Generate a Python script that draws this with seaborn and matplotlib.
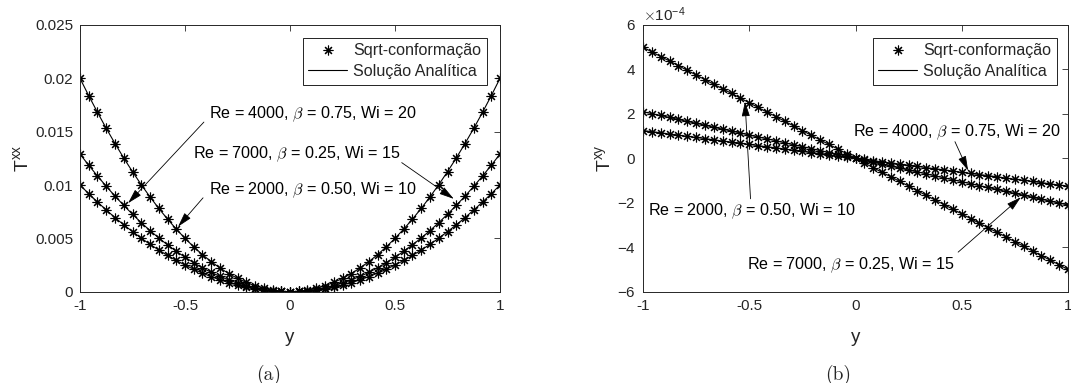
import matplotlib
matplotlib.use("Agg")
import matplotlib.pyplot as plt
import seaborn as sns
import pandas as pd
from matplotlib.lines import Line2D
from matplotlib.ticker import FuncFormatter, ScalarFormatter

# ---------------- data ----------------
y_grid = [-1.0, -0.9583, -0.9167, -0.875, -0.8333, -0.7917, -0.75, -0.7083, -0.6667,
          -0.625, -0.5833, -0.5417, -0.5, -0.4583, -0.4167, -0.375, -0.3333, -0.2917,
          -0.25, -0.2083, -0.1667, -0.125, -0.0833, -0.0417, 0.0,
          0.0417, 0.0833, 0.125, 0.1667, 0.2083, 0.25, 0.2917, 0.3333, 0.375, 0.4167,
          0.4583, 0.5, 0.5417, 0.5833, 0.625, 0.6667, 0.7083, 0.75, 0.7917, 0.8333,
          0.875, 0.9167, 0.9583, 1.0]

# T^xx curves
txx_a = [0.02, 0.01837, 0.01681, 0.01531, 0.01389, 0.01253, 0.01125, 0.01003, 0.00889,
         0.00781, 0.00681, 0.00587, 0.005, 0.0042, 0.00347, 0.00281, 0.00222, 0.0017,
         0.00125, 0.00087, 0.00056, 0.00031, 0.00014, 0.00003, 0.0,
         0.00003, 0.00014, 0.00031, 0.00056, 0.00087, 0.00125, 0.0017, 0.00222, 0.00281,
         0.00347, 0.0042, 0.005, 0.00587, 0.00681, 0.00781, 0.00889, 0.01003, 0.01125,
         0.01253, 0.01389, 0.01531, 0.01681, 0.01837, 0.02]
txx_b = [0.0129, 0.01185, 0.01084, 0.00988, 0.00896, 0.00809, 0.00726, 0.00647, 0.00573,
         0.00504, 0.00439, 0.00379, 0.00323, 0.00271, 0.00224, 0.00181, 0.00143, 0.0011,
         0.00081, 0.00056, 0.00036, 0.0002, 0.00009, 0.00002, 0.0,
         0.00002, 0.00009, 0.0002, 0.00036, 0.00056, 0.00081, 0.0011, 0.00143, 0.00181,
         0.00224, 0.00271, 0.00323, 0.00379, 0.00439, 0.00504, 0.00573, 0.00647, 0.00726,
         0.00809, 0.00896, 0.00988, 0.01084, 0.01185, 0.0129]
txx_c = [0.01, 0.00918, 0.0084, 0.00766, 0.00694, 0.00627, 0.00563, 0.00502, 0.00444,
         0.00391, 0.0034, 0.00293, 0.0025, 0.0021, 0.00174, 0.00141, 0.00111, 0.00085,
         0.00063, 0.00043, 0.00028, 0.00016, 0.00007, 0.00002, 0.0,
         0.00002, 0.00007, 0.00016, 0.00028, 0.00043, 0.00063, 0.00085, 0.00111, 0.00141,
         0.00174, 0.0021, 0.00250, 0.00293, 0.0034, 0.00391, 0.00444, 0.00502, 0.00563,
         0.00627, 0.00694, 0.00766, 0.0084, 0.00918, 0.01]

# T^xy curves (in units of 1e-4)
txy_unit = 1e-4
txy_a = [5.0, 4.79, 4.58, 4.38, 4.17, 3.96, 3.75, 3.54, 3.33, 3.13, 2.92, 2.71, 2.5,
         2.29, 2.08, 1.88, 1.67, 1.46, 1.25, 1.04, 0.83, 0.63, 0.42, 0.21, 0.0,
         -0.21, -0.42, -0.63, -0.83, -1.04, -1.25, -1.46, -1.67, -1.88, -2.08, -2.29,
         -2.5, -2.71, -2.92, -3.13, -3.33, -3.54, -3.75, -3.96, -4.17, -4.38, -4.58,
         -4.79, -5.0]
txy_b = [2.1, 2.01, 1.93, 1.84, 1.75, 1.66, 1.58, 1.49, 1.4, 1.31, 1.23, 1.14, 1.05,
         0.96, 0.88, 0.79, 0.7, 0.61, 0.53, 0.44, 0.35, 0.26, 0.18, 0.09, 0.0,
         -0.09, -0.18, -0.26, -0.35, -0.44, -0.53, -0.61, -0.7, -0.79, -0.88, -0.96,
         -1.05, -1.14, -1.23, -1.31, -1.4, -1.49, -1.58, -1.66, -1.75, -1.84, -1.93,
         -2.01, -2.1]
txy_c = [1.25, 1.2, 1.15, 1.09, 1.04, 0.99, 0.94, 0.89, 0.83, 0.78, 0.73, 0.68, 0.63,
         0.57, 0.52, 0.47, 0.42, 0.36, 0.31, 0.26, 0.21, 0.16, 0.1, 0.05, 0.0,
         -0.05, -0.1, -0.16, -0.21, -0.26, -0.31, -0.36, -0.42, -0.47, -0.52, -0.57,
         -0.63, -0.68, -0.73, -0.78, -0.83, -0.89, -0.94, -0.99, -1.04, -1.09, -1.15,
         -1.2, -1.25]

x_ticks = [-1, -0.5, 0, 0.5, 1]
txx_ticks = [0, 0.005, 0.01, 0.015, 0.02, 0.025]
txy_ticks = [-6, -4, -2, 0, 2, 4, 6]

legend_labels = ["Sqrt-conformação", "Solução Analítica"]
lab_2000 = r"Re = 2000, $\beta$ = 0.50, Wi = 10"
lab_4000 = r"Re = 4000, $\beta$ = 0.75, Wi = 20"
lab_7000 = r"Re = 7000, $\beta$ = 0.25, Wi = 15"

# ---------------- style ----------------
sns.set_style("white")
plt.rcParams["font.family"] = ["Liberation Sans", "DejaVu Sans"]
plt.rcParams["mathtext.fontset"] = "cm"
plt.rcParams["axes.unicode_minus"] = False
AX_COL = "#262626"

ASTER = (8, 2, 0)
MS = 7
LW = 0.8
TXT = 11.6
TICK = 11

fig = plt.figure(figsize=(10.71, 3.83), dpi=100)
axL = fig.add_axes([80 / 1071, (383 - 291.7) / 383, 420 / 1071, 266.7 / 383])
axR = fig.add_axes([643 / 1071, (383 - 291.7) / 383, 425 / 1071, 266.7 / 383])


def draw(ax, series):
    for vals in series:
        df = pd.DataFrame({"y": y_grid, "v": vals})
        sns.lineplot(data=df, x="y", y="v", ax=ax, color="black", lw=LW, sort=False)
        sns.lineplot(data=df, x="y", y="v", ax=ax, color="black", lw=0, sort=False,
                     marker=ASTER, markersize=MS, markeredgewidth=0.8,
                     markeredgecolor="black")


draw(axL, [txx_a, txx_b, txx_c])
draw(axR, [[v * txy_unit for v in s] for s in (txy_a, txy_b, txy_c)])

for ax in (axL, axR):
    ax.set_xlim(-1, 1)
    ax.set_xticks(x_ticks)
    ax.xaxis.set_major_formatter(FuncFormatter(lambda v, p: "%g" % v))
    ax.tick_params(direction="in", top=True, right=True, length=4, width=0.6,
                   colors=AX_COL, labelsize=TICK, pad=5)
    for s in ax.spines.values():
        s.set_color(AX_COL)
        s.set_linewidth(0.7)
    ax.set_xlabel("y", fontsize=13.5, color=AX_COL, labelpad=12)

axL.set_ylim(0, 0.025)
axL.set_yticks(txx_ticks)
axL.yaxis.set_major_formatter(FuncFormatter(lambda v, p: "%g" % v))
axL.set_ylabel(r"$\mathregular{T^{xx}}$", fontsize=14, color=AX_COL, labelpad=2)

axR.set_ylim(-6e-4, 6e-4)
axR.set_yticks([t * txy_unit for t in txy_ticks])
fmt = ScalarFormatter(useMathText=True)
fmt.set_powerlimits((0, 0))
axR.yaxis.set_major_formatter(fmt)
axR.yaxis.get_offset_text().set_fontsize(TICK)
axR.yaxis.get_offset_text().set_color(AX_COL)
axR.set_ylabel(r"$\mathregular{T^{xy}}$", fontsize=14, color=AX_COL, labelpad=2)

# legends
handles = [Line2D([], [], ls="none", marker=ASTER, markersize=MS, markeredgewidth=0.8,
                  color="black"),
           Line2D([], [], color="black", lw=LW)]
for ax, bx in ((axL, 0.969), (axR, 0.974)):
    leg = ax.legend(handles, legend_labels, loc="upper right",
                    bbox_to_anchor=(bx, 0.952), borderaxespad=0, fontsize=TXT,
                    frameon=True, fancybox=False, framealpha=1, edgecolor="black",
                    handlelength=2.4, handletextpad=0.4, labelspacing=0.35,
                    borderpad=0.35)
    leg.get_frame().set_linewidth(0.6)

arrow = dict(arrowstyle="-|>,head_length=0.9,head_width=0.25", color="black",
             lw=0.6, shrinkA=0, shrinkB=0)
tk = dict(fontsize=TXT, color="black", va="center", ha="left")

# left panel annotations
axL.text(-0.386, 0.0166, lab_4000, **tk)
axL.annotate("", xy=(-0.771, 0.0083), xytext=(-0.41, 0.0159), arrowprops=arrow)
axL.text(-0.462, 0.01285, lab_7000, **tk)
axL.annotate("", xy=(0.78, 0.0087), xytext=(0.532, 0.0121), arrowprops=arrow)
axL.text(-0.386, 0.0095, lab_2000, **tk)
axL.annotate("", xy=(-0.533, 0.0061), xytext=(-0.414, 0.0088), arrowprops=arrow)

# right panel annotations
axR.text(-0.01, 1.15e-4, lab_4000, **tk)
axR.annotate("", xy=(0.53, -0.55e-4), xytext=(0.468, 0.75e-4), arrowprops=arrow)
axR.text(-0.975, -2.38e-4, lab_2000, **tk)
axR.annotate("", xy=(-0.52, 2.55e-4), xytext=(-0.494, -1.82e-4), arrowprops=arrow)
axR.text(-0.51, -4.8e-4, lab_7000, **tk)
axR.annotate("", xy=(0.778, -1.75e-4), xytext=(0.483, -4.22e-4), arrowprops=arrow)

# captions
fig.text(268.5 / 1071, 1 - 374.5 / 383, "(a)", family="cmr10", fontsize=14,
         ha="center", va="center")
fig.text(838 / 1071, 1 - 374.5 / 383, "(b)", family="cmr10", fontsize=14,
         ha="center", va="center")

fig.savefig("out.png", dpi=100)
